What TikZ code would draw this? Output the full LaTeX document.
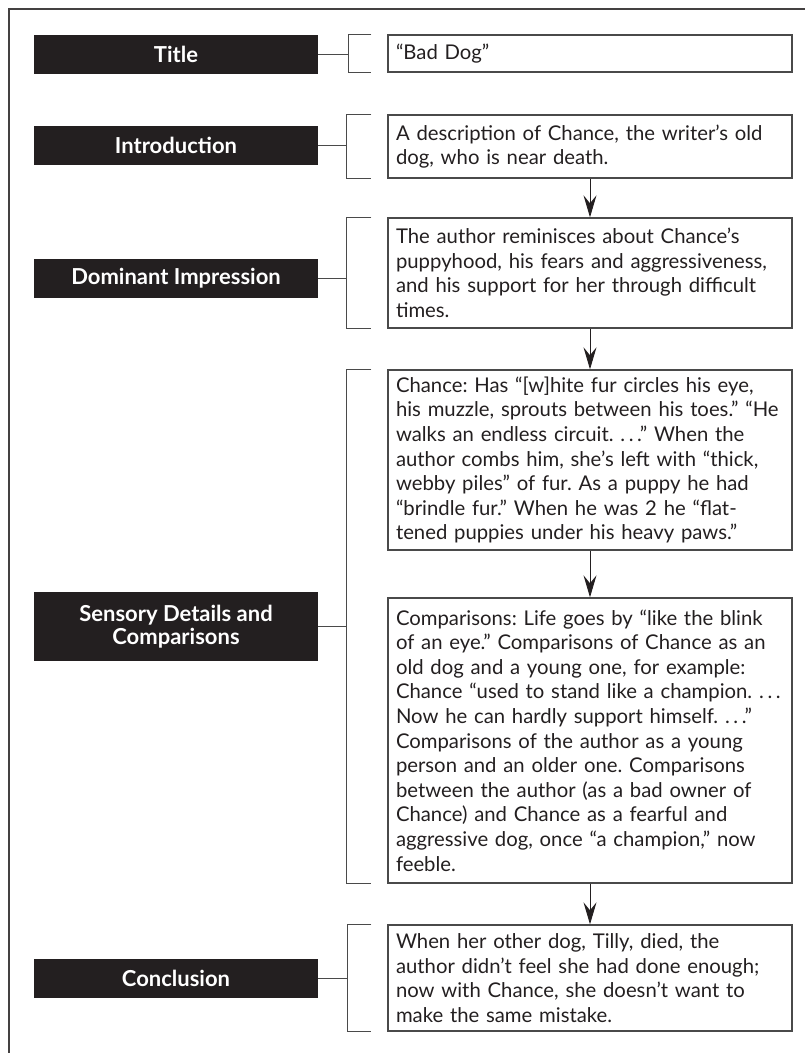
\documentclass[tikz,border=0pt]{standalone}
\usepackage{fontspec}
\setmainfont{Lato}
\usetikzlibrary{arrows.meta,calc}
\definecolor{ink}{HTML}{231F20}
\definecolor{rule}{HTML}{4A4A4A}
\frenchspacing
\newcommand{\eldots}{.\kern0.18em.\kern0.18em.}
\begin{document}
\begin{tikzpicture}[x=1pt,y=-1pt,
  lbl/.style={fill=ink,text=white,font=\fontsize{22}{23.5}\selectfont\bfseries,
    minimum width=284pt,inner sep=0pt,align=center},
  tbox/.style={draw=rule,line width=1.4pt,text=ink,text width=388pt,inner xsep=8pt,inner ysep=0pt,
    minimum width=404pt,align=left,font=\fontsize{20.3}{24.6}\selectfont},
  brk/.style={draw=rule,line width=1.4pt},
  flow/.style={draw=ink,line width=0.9pt,-{Stealth[length=22pt,width=13pt,inset=8pt]}}]
\useasboundingbox (0,0) rectangle (805,1053);
\draw[line width=2pt,draw=ink!85] (805,9) -- (9,9) -- (9,1053);
% labels
\node[lbl,minimum height=39pt] (L1) at (176,54.5) {Title};
\node[lbl,minimum height=39pt] (L2) at (176,145.5) {Introduction};
\node[lbl,minimum height=39pt] (L3) at (176,278.5) {Dominant Impression};
\node[lbl,minimum height=69pt] (L4) at (176,626.5) {Sensory Details and\\Comparisons};
\node[lbl,minimum height=39pt] (L5) at (176,978.5) {Conclusion};
% text boxes
\node[tbox,minimum height=37pt] (T1) at (590,53.5) {“Bad Dog”};
\node[tbox,minimum height=63pt] (T2) at (590,146.5) {A description of Chance, the writer’s old\\dog, who is near death.};
\node[tbox,minimum height=110pt] (T3) at (590,273) {The author reminisces about Chance’s\\puppyhood, his fears and aggressiveness,\\and his support for her through difficult\\times.};
\node[tbox,minimum height=180pt] (T4) at (590,460) {Chance: Has “[w]hite fur circles his eye,\\his muzzle, sprouts between his toes.” “He\\walks an endless circuit.~\eldots” When the\\author combs him, she’s left with “thick,\\webby piles” of fur. As a puppy he had\\“brindle fur.” When he was 2 he “flat-\\tened puppies under his heavy paws.”};
\node[tbox,minimum height=285pt] (T5) at (590,740.5) {Comparisons: Life goes by “like the blink\\of an eye.” Comparisons of Chance as an\\old dog and a young one, for example:\\Chance “used to stand like a champion.~\eldots\\Now he can hardly support himself.~\eldots”\\Comparisons of the author as a young\\person and an older one. Comparisons\\between the author (as a bad owner of\\Chance) and Chance as a fearful and\\aggressive dog, once “a champion,” now\\feeble.};
\node[tbox,minimum height=106pt] (T6) at (590,978) {When her other dog, Tilly, died, the\\author didn’t feel she had done enough;\\now with Chance, she doesn’t want to\\make the same mistake.};
% brackets
\draw[brk] ($(T1.north west)+(-16,0)$) -- ++(-23,0) |- ($(T1.south west)+(-16,0)$);
\draw[brk] ($(T2.north west)+(-16,0)$) -- ++(-25,0) |- ($(T2.south west)+(-16,0)$);
\draw[brk] ($(T3.north west)+(-16,0)$) -- ++(-25,0) |- ($(T3.south west)+(-16,0)$);
\draw[brk] ($(T4.north west)+(-16,0)$) -- ++(-25,0) |- ($(T5.south west)+(-16,0)$);
\draw[brk] ($(T6.north west)+(-16,0)$) -- ++(-24,0) |- ($(T6.south west)+(-16,0)$);
% label connectors
\draw[brk] (L1.east) -- (L1.east -| 349,0);
\draw[brk] (L2.east) -- (L2.east -| 347,0);
\draw[brk] (L3.east) -- (L3.east -| 347,0);
\draw[brk] (L4.east) -- (L4.east -| 347,0);
\draw[brk] (L5.east) -- (L5.east -| 348,0);
% flow arrows
\draw[flow] (T2.south) -- (T3.north);
\draw[flow] (T3.south) -- (T4.north);
\draw[flow] (T4.south) -- (T5.north);
\draw[flow] (T5.south) -- (T6.north);
\end{tikzpicture}
\end{document}
